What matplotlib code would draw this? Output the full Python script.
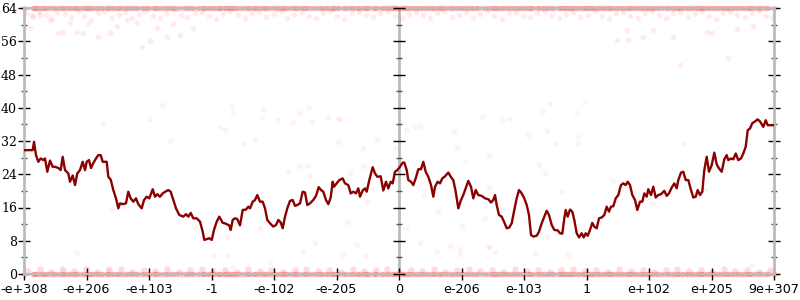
import numpy as np
import matplotlib
matplotlib.use("Agg")
import matplotlib.pyplot as plt

# x positions are ordinal sample positions (0..750) along the float ordering
x_tick_labels = ["-e+308", "-e+206", "-e+103", "-1", "-e-102", "-e-205", "0",
                 "e-206", "e-103", "1", "e+102", "e+205", "9e+307"]
y_ticks = [0, 8, 16, 24, 32, 40, 48, 56, 64]

line_x = [0, 8.7, 10, 12, 14.3, 16.7, 19.3, 21, 23.3, 26, 28.7, 31, 34.3, 36.7, 38.7, 41, 44.3, 46, 48.7, 51,
          53.3, 56, 58.7, 61, 62.7, 65, 67, 69.3, 72, 74.3, 76.7, 78.7, 82.7, 84.3, 86.7, 89.3, 92, 94.3, 96, 98.7,
          102, 104.3, 106.7, 109.3, 112, 114.3, 117.7, 120, 122.7, 125.3, 128.7, 131, 133.3, 136, 138.7, 142, 144.3,
          146.7, 149.3, 152, 155.3, 159.3, 162, 164.3, 166.7, 169.3, 172.7, 176, 178.7, 180.3, 182.7, 185.3, 187.7,
          190, 192.7, 195.3, 196, 198.7, 201, 203.3, 205.3, 206.7, 208.7, 211, 213.3, 216, 218.7, 222, 224.3, 226,
          228.7, 231, 233.3, 236, 238.7, 241, 243.3, 246, 249.3, 252, 254.3, 256.7, 258.7, 261, 263.3, 266, 268.7,
          271, 273.3, 276, 278.7, 281, 283.3, 286, 289.3, 292, 294.7, 297, 299.3, 302, 304.3, 306.7, 308.7, 310,
          312.7, 315.3, 318.7, 321, 324.3, 326.7, 329.3, 332, 334.3, 336, 338.7, 341, 342.7, 345.3, 348.7, 351,
          353.3, 356.7, 359.3, 362, 364.3, 366.7, 368.7, 371, 373.3, 376, 378.7, 380.3, 382.7, 384.3, 387, 389.3,
          391.7, 394.3, 397, 399.3, 401.7, 404.3, 407, 409.3, 411, 413.7, 416, 418.3, 421, 424.3, 427, 429.3, 431.7,
          434.3, 437, 439.3, 441.7, 444.3, 447, 449.3, 451.7, 454.3, 457.7, 461, 464.3, 467, 469.3, 471, 472.7, 475,
          477.7, 480, 482.7, 485.3, 487.7, 490.3, 492.7, 495, 497.7, 500.3, 502.7, 505, 507, 509.3, 512.7, 515,
          517.7, 520.3, 522.7, 525, 527.7, 530.3, 533.7, 536, 538.3, 540.3, 541.7, 543.7, 546, 548.3, 550.3, 552.7,
          555, 557.7, 559.7, 561.7, 563.7, 566, 568.3, 570.3, 572.7, 575, 577.7, 580.3, 582.7, 585, 587, 589.3,
          591.7, 594.3, 597, 599.3, 601.7, 603.7, 606, 608.3, 611, 613.3, 616, 618.3, 620.3, 622.7, 624.3, 627,
          629.3, 631.7, 634.3, 637, 640.3, 642.7, 645, 647.7, 650.3, 652.7, 654.3, 657, 659.3, 661.7, 664.3, 667,
          669.3, 671.7, 673.7, 676, 678.3, 680.3, 682.7, 685, 687.7, 690.3, 692.7, 695, 697.7, 700.3, 702.7, 704.3,
          707, 709.3, 711.7, 714.3, 717, 719.3, 721.7, 723.7, 726, 728.3, 731, 733.7, 736, 739.3, 741.7, 743.7, 750]
line_y = [29.8, 29.8, 31.8, 28.6, 27.0, 27.8, 27.4, 27.8, 24.6, 27.3, 25.8, 25.8, 25.5, 25.0, 28.2, 25.0, 24.2, 22.2,
          23.7, 21.4, 24.2, 25.0, 27.0, 25.0, 27.0, 27.4, 25.5, 26.7, 27.8, 28.6, 28.6, 27.0, 27.0, 23.4, 22.7, 20.2,
          18.2, 15.8, 17.0, 16.8, 17.0, 19.8, 18.2, 17.4, 18.2, 16.8, 15.8, 17.8, 18.6, 18.2, 20.4, 18.6, 19.2, 18.6,
          19.4, 19.9, 20.2, 19.8, 17.8, 15.8, 14.2, 13.8, 14.4, 13.8, 14.7, 13.4, 13.4, 12.6, 10.2, 8.2, 8.4, 8.6,
          8.2, 10.6, 12.6, 13.8, 13.5, 12.3, 12.2, 11.9, 11.7, 10.6, 13.0, 13.4, 13.2, 11.7, 15.4, 15.5, 16.2, 15.8,
          17.4, 17.8, 19.0, 17.4, 17.4, 15.8, 13.0, 12.2, 11.4, 11.8, 13.0, 12.4, 11.0, 13.8, 15.8, 17.6, 17.8, 16.4,
          16.6, 17.0, 19.8, 19.6, 16.6, 17.0, 17.8, 18.8, 20.9, 20.2, 19.8, 17.8, 16.8, 18.4, 22.2, 21.0, 21.8, 22.6,
          23.0, 21.8, 21.4, 19.4, 19.8, 19.4, 20.6, 18.6, 20.1, 20.6, 19.8, 22.6, 25.7, 24.2, 23.4, 23.5, 20.1, 22.2,
          20.6, 22.2, 21.8, 24.6, 25.0, 25.8, 26.8, 26.8, 25.0, 22.6, 22.2, 21.4, 23.0, 25.2, 25.2, 27.0, 24.6, 23.4,
          21.4, 18.6, 21.0, 22.2, 21.8, 23.0, 23.5, 24.4, 23.3, 22.6, 19.8, 15.8, 17.8, 19.0, 20.6, 22.4, 21.0, 18.2,
          20.2, 19.0, 18.8, 18.2, 18.0, 17.2, 17.8, 19.0, 16.6, 14.2, 13.8, 12.6, 11.0, 11.2, 12.2, 15.4, 18.2, 20.2,
          19.4, 18.2, 16.6, 14.2, 9.4, 9.0, 9.2, 10.2, 12.2, 13.8, 15.2, 14.2, 11.8, 10.6, 10.5, 9.8, 9.7, 13.4, 15.4,
          13.8, 15.5, 15.0, 13.0, 9.8, 8.8, 9.8, 8.8, 9.8, 9.2, 10.6, 12.3, 11.4, 11.0, 13.4, 13.6, 14.2, 16.2, 15.0,
          16.2, 16.3, 18.2, 19.0, 21.4, 21.8, 21.4, 22.2, 21.4, 19.0, 17.8, 15.4, 17.4, 17.4, 19.4, 18.6, 20.4, 19.0,
          21.0, 18.4, 19.0, 19.2, 20.0, 18.8, 19.4, 20.8, 21.8, 20.6, 22.6, 24.4, 24.6, 22.6, 22.6, 20.2, 18.4, 18.6,
          20.2, 19.0, 19.8, 25.0, 28.2, 24.6, 26.2, 29.2, 26.4, 25.4, 24.6, 27.6, 28.6, 27.4, 27.8, 27.6, 29.0, 27.4,
          27.8, 29.0, 30.6, 34.6, 35.0, 36.3, 36.7, 37.2, 36.7, 35.4, 37.0, 35.8, 35.8]

top_pts = [(2,62.8),(9,61.9),(15,63.1),(22,62.2),(28,61.4),(33,63.0),(41,62.5),(47,61.8),(55,63.2),(60,62.0),
           (67,61.2),(74,62.7),(80,63.3),(88,61.7),(95,62.4),(101,63.0),(108,61.5),(115,62.6),(121,63.2),(129,62.1),
           (136,61.6),(142,62.9),(150,63.4),(157,62.3),(163,61.8),(171,62.9),(178,63.1),(185,62.0),(192,61.3),
           (199,62.6),(206,63.3),(214,62.2),(221,61.7),(228,62.8),(235,63.0),(242,61.9),(250,62.5),(257,63.2),
           (263,61.5),(270,62.4),(278,63.0),(285,62.1),(292,61.6),(299,62.9),(306,63.3),(313,62.0),(320,61.4),
           (328,62.7),(335,63.1),(342,62.3),(349,61.8),(356,62.9),(364,63.2),(371,62.0),(378,61.5),(385,62.6),
           (392,63.0),(399,62.2),(406,61.7),(413,62.8),(420,63.3),(428,61.9),(435,62.4),(442,63.0),(449,61.6),
           (456,62.5),(463,63.2),(470,62.1),(478,61.4),(485,62.7),(492,63.1),(499,62.0),(506,61.8),(513,62.9),
           (521,63.3),(528,62.2),(535,61.5),(542,62.6),(549,63.0),(556,61.9),(564,62.4),(571,63.2),(578,62.0),
           (585,61.3),(592,62.8),(599,63.1),(606,62.1),(614,61.7),(621,62.9),(628,63.3),(635,62.3),(642,61.6),
           (649,62.7),(656,63.0),(664,61.9),(671,62.5),(678,63.2),(685,62.0),(692,61.4),(699,62.8),(706,63.1),
           (713,62.2),(721,61.8),(728,62.9),(735,63.3),(742,62.1),(748,61.6),
           (8,62.3),(16,62.3),(6,59.1),(26,61.1),(34,58.0),(39,58.3),(46,60.3),(53,58.3),(59,58.0),(64,60.1),
           (74,57.1),(86,58.0),(93,59.6),(103,61.1),(113,60.3),(118,54.7),(126,56.0),(133,59.1),(143,57.1),
           (149,60.1),(156,57.5),(169,59.1),(593,56.3),(604,56.3),(619,57.0),(649,57.0),(656,50.3),(704,51.9),
           (603,58.7),(629,58.7),(683,58.3),(688,57.9),(713,58.9),(729,59.7)]

mid_pts = [(79,36.4),(138,40.7),(126,37.4),(146,32.1),(196,35.4),(201,34.6),(208,40.4),(209,38.8),(219,31.6),
           (231,32.6),(238,37.5),(239,39.6),(254,37.0),(264,24.9),(269,36.6),(276,38.8),(276,26.0),(284,26.0),
           (285,40.1),(288,36.6),(286,23.8),(304,37.7),(314,37.2),(316,37.2),(314,31.8),(326,24.2),(339,30.2),
           (339,26.0),(353,32.2),(371,30.2),(88,15.6),(343,17.4),(323,12.6),(236,11.0),(203,9.0),(171,11.4),
           (458,37.8),(479,37.0),(486,37.2),(519,39.1),(526,40.9),(553,38.8),(561,41.5),(391,35.4),(396,35.6),
           (382,34.6),(430,34.5),(504,33.4),(523,34.5),(531,31.4),(554,32.9),(554,31.4),(433,30.5),(465,28.6),
           (441,27.3),(515,26.2),(521,24.4),(659,31.6),(589,22.4),(465,20.9),(400,19.0),(538,19.8),(414,15.0),
           (461,13.4),(438,11.5),(382,11.0),(523,9.0),(629,16.8),(681,20.2),
           (291,7.4),(279,5.4),(319,4.6),(341,4.3),(333,7.0),(396,7.4),(413,5.4),(426,6.7),(436,5.9),(436,4.8),
           (466,6.4),(471,5.4),(511,5.0),(246,3.0),(53,5.1),(38,1.4),(84,1.4),(189,4.3),(203,4.6),(209,1.8),
           (544,4.6),(728,2.2),(464,6.4)]

bottom_pts = [(4,0.8),(16,1.1),(27,0.6),(39,1.0),(50,0.7),(62,1.2),(73,0.5),(85,0.9),(97,1.1),(108,0.6),
              (120,1.0),(131,0.8),(143,1.2),(155,0.5),(166,0.9),(178,1.1),(189,0.7),(201,1.0),(213,0.6),(224,1.2),
              (236,0.8),(247,1.0),(259,0.5),(271,0.9),(282,1.1),(294,0.7),(305,1.0),(317,0.6),(329,1.2),(340,0.8),
              (352,0.9),(363,1.1),(375,0.6),(387,1.0),(398,0.8),(410,1.2),(421,0.5),(433,0.9),(445,1.1),(456,0.7),
              (468,1.0),(479,0.6),(491,1.2),(503,0.8),(514,1.0),(526,0.5),(537,0.9),(549,1.1),(561,0.7),(572,1.0),
              (584,0.6),(595,1.2),(607,0.8),(619,1.0),(630,0.5),(642,0.9),(653,1.1),(665,0.7),(677,1.0),(688,0.6),
              (700,1.2),(711,0.8),(723,1.0),(735,0.5),(746,0.9)]

x_max = 750
y_max = 64

fig = plt.figure(figsize=(8, 3), dpi=100)
ax = fig.add_axes([24/800, 26/300, 750/800, 266/300])
ax.set_xlim(0, x_max)
ax.set_ylim(0, y_max)

band_kw = dict(s=16, color="red", alpha=0.22, linewidths=0, zorder=2, clip_on=False)
# samples at maximum and zero error
ax.scatter(line_x, [y_max] * len(line_x), **band_kw)
ax.scatter(line_x, [0] * len(line_x), **band_kw)
xs, ys = zip(*top_pts)
ax.scatter(xs, ys, s=16, color="red", alpha=0.08, linewidths=0, zorder=2)
xs, ys = zip(*mid_pts)
ax.scatter(xs, ys, s=16, color="red", alpha=0.05, linewidths=0, zorder=2)
xs, ys = zip(*bottom_pts)
ax.scatter(xs, ys, s=22, color="red", alpha=0.14, linewidths=0, zorder=2)

ax.plot(line_x, line_y, color="#8b0000", lw=1.7, zorder=4, solid_joinstyle="round")

# middle axis
x_ticks = np.linspace(0, x_max, len(x_tick_labels))
mid = x_ticks[len(x_ticks) // 2]
ax.axvline(mid, color="#bbbbbb", lw=2, zorder=1)
minor_y = [v + 4 for v in y_ticks[:-1]]
ax.plot([mid] * len(y_ticks), y_ticks, ls="none", marker="_", ms=9, mew=1, color="black", zorder=3, clip_on=False)
ax.plot([mid] * len(minor_y), minor_y, ls="none", marker="_", ms=4.5, mew=1, color="#555555", zorder=3)

for side in ("left", "right"):
    ax.spines[side].set_color("#bbbbbb")
    ax.spines[side].set_linewidth(2)
for side in ("top", "bottom"):
    ax.spines[side].set_color("#bbbbbb")
    ax.spines[side].set_linewidth(1.5)

ax.set_xticks(x_ticks)
ax.set_xticklabels(x_tick_labels, fontsize=9.2, family="DejaVu Sans")
ax.set_yticks(y_ticks)
ax.set_yticklabels([str(v) for v in y_ticks], fontsize=9, family="DejaVu Serif")
ax.set_yticks(minor_y, minor=True)
ax.tick_params(axis="y", which="major", direction="inout", length=9, width=1, left=True, right=True,
               labelright=False, pad=0.5)
ax.tick_params(axis="y", which="minor", direction="inout", length=4.5, width=1, color="#555555",
               left=True, right=True)
ax.tick_params(axis="x", which="major", direction="inout", length=8, width=1, pad=2.5)

fig.savefig("out.png", dpi=100)
